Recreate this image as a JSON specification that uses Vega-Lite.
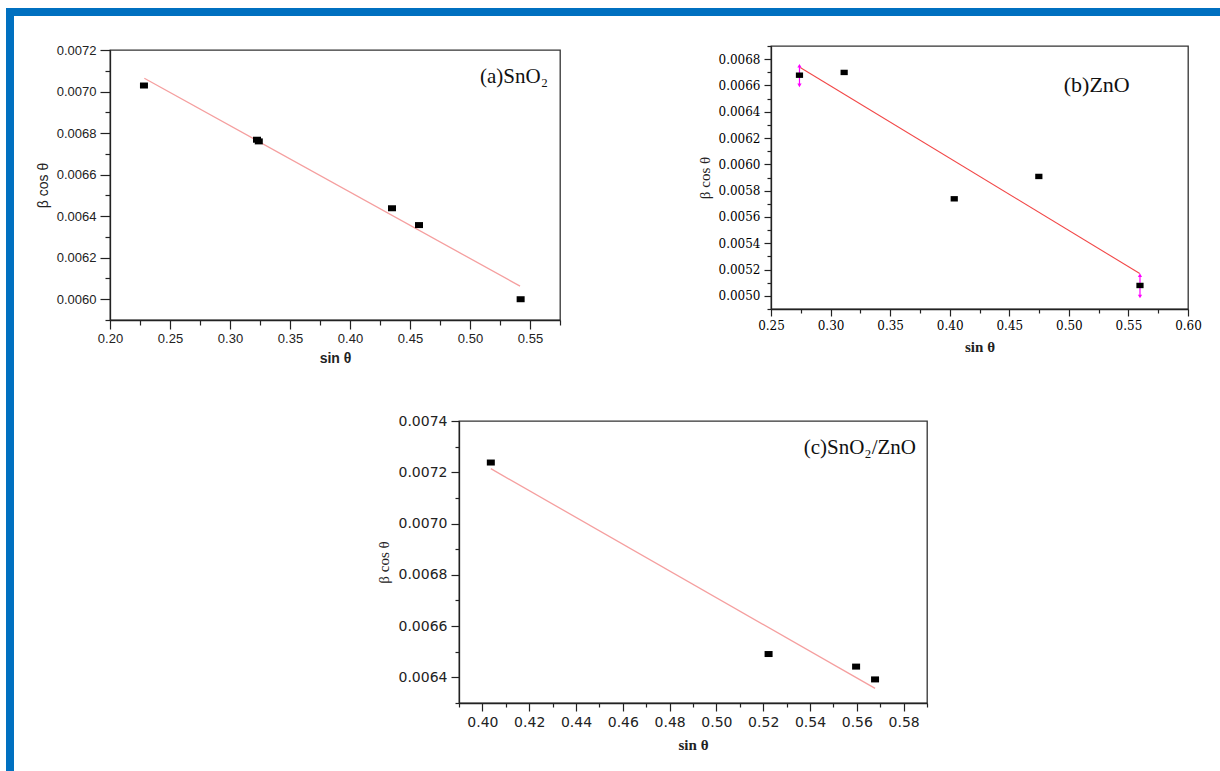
{
  "$schema": "https://vega.github.io/schema/vega-lite/v6.json",
  "background": "white",
  "padding": {"left": 6, "top": 8, "right": 0, "bottom": 0},
  "config": {
    "view": {"stroke": "#333333", "strokeWidth": 1.3},
    "axis": {"grid": false, "domainColor": "#222222", "tickColor": "#222222", "labelColor": "#222222", "titleColor": "#222222", "labelFlush": false, "labelOverlap": false, "domainWidth": 1.3, "tickWidth": 1.2}
  },
  "datasets": {
    "a_pts": [{"sin": 0.2283, "bc": 0.007029}, {"sin": 0.3225, "bc": 0.006768}, {"sin": 0.324, "bc": 0.00676}, {"sin": 0.435, "bc": 0.006438}, {"sin": 0.4575, "bc": 0.006357}, {"sin": 0.5422, "bc": 0.006}],
    "a_fit": [{"sin": 0.2286, "bc": 0.007064}, {"sin": 0.5417, "bc": 0.006063}],
    "b_pts": [{"sin": 0.2739, "bc": 0.006678}, {"sin": 0.3114, "bc": 0.006699}, {"sin": 0.4038, "bc": 0.005738}, {"sin": 0.4748, "bc": 0.005908}, {"sin": 0.5597, "bc": 0.005079}],
    "b_fit": [{"sin": 0.2745, "bc": 0.006737}, {"sin": 0.5595, "bc": 0.00517}],
    "b_err": [{"sin": 0.2739, "lo": 0.0066, "hi": 0.00675}, {"sin": 0.5597, "lo": 0.004995, "hi": 0.005157}],
    "c_pts": [{"sin": 0.4036, "bc": 0.007238}, {"sin": 0.5223, "bc": 0.006491}, {"sin": 0.5597, "bc": 0.006442}, {"sin": 0.5678, "bc": 0.006392}],
    "c_fit": [{"sin": 0.4036, "bc": 0.007214}, {"sin": 0.5678, "bc": 0.006357}]
  },
  "vconcat": [
    {"width": 1214, "height": 8, "view": {"stroke": null, "fill": "#0070c0"}, "data": {"values": []}, "mark": "point"},
    {
      "hconcat": [
        {"width": 8, "height": 755, "view": {"stroke": null, "fill": "#0070c0"}, "data": {"values": []}, "mark": "point"},
        {
          "vconcat": [
            {"width": 1, "height": 22, "view": {"stroke": null}, "data": {"values": []}, "mark": "point"},
            {
              "vconcat": [
                {
                  "hconcat": [
                    {
                      "vconcat": [
                        {"width": 1, "height": 1, "view": {"stroke": null}, "data": {"values": []}, "mark": "point"},
                        {
                          "width": 450, "height": 270,
                          "layer": [
                            {
                              "encoding": {
                                "x": {"field": "sin", "type": "quantitative", "scale": {"domain": [0.2, 0.575], "nice": false, "zero": false},
                                  "axis": {"title": "sin θ", "values": [0.2, 0.225, 0.25, 0.275, 0.3, 0.325, 0.35, 0.375, 0.4, 0.425, 0.45, 0.475, 0.5, 0.525, 0.55, 0.575],
                                    "labelExpr": "abs(datum.value*20 - round(datum.value*20)) < 0.01 ? format(datum.value, '.2f') : ''",
                                    "tickSize": {"condition": {"test": "abs(datum.value*20 - round(datum.value*20)) < 0.01", "value": 9}, "value": 5},
                                    "labelFont": "Liberation Sans", "labelFontSize": 13, "labelPadding": 3,
                                    "titleFont": "Liberation Sans", "titleFontSize": 14, "titleFontWeight": "bold", "titlePadding": 6}},
                                "y": {"field": "bc", "type": "quantitative", "scale": {"domain": [0.0059, 0.0072], "nice": false, "zero": false},
                                  "axis": {"title": "β cos θ", "values": [0.0059, 0.006, 0.0061, 0.0062, 0.0063, 0.0064, 0.0065, 0.0066, 0.0067, 0.0068, 0.0069, 0.007, 0.0071, 0.0072],
                                    "labelExpr": "abs(datum.value*5000 - round(datum.value*5000)) < 0.01 ? format(datum.value, '.4f') : ''",
                                    "tickSize": {"condition": {"test": "abs(datum.value*5000 - round(datum.value*5000)) < 0.01", "value": 10}, "value": 5},
                                    "labelFont": "Liberation Sans", "labelFontSize": 13, "labelPadding": 4,
                                    "titleFont": "Liberation Sans", "titleFontSize": 14, "titleFontWeight": "normal", "titlePadding": 6}}
                              },
                              "layer": [
                                {"data": {"name": "a_fit"}, "mark": {"type": "line", "color": "#f59f9f", "strokeWidth": 1.3}},
                                {"data": {"name": "a_pts"}, "mark": {"type": "point", "shape": "M-1,-0.75H1V0.75H-1Z", "filled": true, "color": "#000000", "opacity": 1, "size": 64}}
                              ]
                            },
                            {"data": {"values": [{"label": "(a)SnO₂"}]}, "mark": {"type": "text", "font": "Liberation Serif", "fontSize": 21, "align": "right", "baseline": "alphabetic", "color": "#111111"},
                              "encoding": {
                                "x": {"datum": 0.565, "type": "quantitative", "scale": {"domain": [0.2, 0.575], "nice": false, "zero": false},
                                  "axis": {"title": "sin θ", "values": [0.2, 0.225, 0.25, 0.275, 0.3, 0.325, 0.35, 0.375, 0.4, 0.425, 0.45, 0.475, 0.5, 0.525, 0.55, 0.575],
                                    "labelExpr": "abs(datum.value*20 - round(datum.value*20)) < 0.01 ? format(datum.value, '.2f') : ''",
                                    "tickSize": {"condition": {"test": "abs(datum.value*20 - round(datum.value*20)) < 0.01", "value": 9}, "value": 5},
                                    "labelFont": "Liberation Sans", "labelFontSize": 13, "labelPadding": 3,
                                    "titleFont": "Liberation Sans", "titleFontSize": 14, "titleFontWeight": "bold", "titlePadding": 6}},
                                "y": {"datum": 0.007042, "type": "quantitative", "scale": {"domain": [0.0059, 0.0072], "nice": false, "zero": false},
                                  "axis": {"title": "β cos θ", "values": [0.0059, 0.006, 0.0061, 0.0062, 0.0063, 0.0064, 0.0065, 0.0066, 0.0067, 0.0068, 0.0069, 0.007, 0.0071, 0.0072],
                                    "labelExpr": "abs(datum.value*5000 - round(datum.value*5000)) < 0.01 ? format(datum.value, '.4f') : ''",
                                    "tickSize": {"condition": {"test": "abs(datum.value*5000 - round(datum.value*5000)) < 0.01", "value": 10}, "value": 5},
                                    "labelFont": "Liberation Sans", "labelFontSize": 13, "labelPadding": 4,
                                    "titleFont": "Liberation Sans", "titleFontSize": 14, "titleFontWeight": "normal", "titlePadding": 6}},
                                "text": {"field": "label", "type": "nominal"}
                              }}
                          ]
                        }
                      ],
                      "spacing": 4
                    },
                    {
                      "vconcat": [
                        {"width": 1, "height": 1, "view": {"stroke": null}, "data": {"values": []}, "mark": "point"},
                        {
                          "width": 417, "height": 263,
                          "layer": [
                            {
                              "encoding": {
                                "x": {"field": "sin", "type": "quantitative", "scale": {"domain": [0.25, 0.6], "nice": false, "zero": false},
                                  "axis": {"title": "sin θ", "values": [0.25, 0.275, 0.3, 0.325, 0.35, 0.375, 0.4, 0.425, 0.45, 0.475, 0.5, 0.525, 0.55, 0.575, 0.6],
                                    "labelExpr": "abs(datum.value*20 - round(datum.value*20)) < 0.01 ? format(datum.value, '.2f') : ''",
                                    "tickSize": {"condition": {"test": "abs(datum.value*20 - round(datum.value*20)) < 0.01", "value": 7}, "value": 4},
                                    "labelFont": "DejaVu Serif", "labelFontSize": 12, "labelPadding": 4, "labelColor": "#000000",
                                    "titleFont": "Liberation Serif", "titleFontSize": 15, "titleFontWeight": "bold", "titlePadding": 8}},
                                "y": {"field": "bc", "type": "quantitative", "scale": {"domain": [0.0049, 0.0069], "nice": false, "zero": false},
                                  "axis": {"title": "β cos θ", "values": [0.0049, 0.005, 0.0051, 0.0052, 0.0053, 0.0054, 0.0055, 0.0056, 0.0057, 0.0058, 0.0059, 0.006, 0.0061, 0.0062, 0.0063, 0.0064, 0.0065, 0.0066, 0.0067, 0.0068, 0.0069],
                                    "labelExpr": "abs(datum.value*5000 - round(datum.value*5000)) < 0.01 ? format(datum.value, '.4f') : ''",
                                    "tickSize": {"condition": {"test": "abs(datum.value*5000 - round(datum.value*5000)) < 0.01", "value": 7}, "value": 4},
                                    "labelFont": "DejaVu Serif", "labelFontSize": 12, "labelPadding": 4, "labelColor": "#000000",
                                    "titleFont": "Liberation Serif", "titleFontSize": 15, "titleFontWeight": "normal", "titlePadding": 6}}
                              },
                              "layer": [
                                {"data": {"name": "b_fit"}, "mark": {"type": "line", "color": "#f24848", "strokeWidth": 1.1}},
                                {"data": {"name": "b_err"}, "mark": {"type": "rule", "color": "#ff00ff", "strokeWidth": 1.2}, "encoding": {"y": {"field": "lo", "type": "quantitative"}, "y2": {"field": "hi"}}},
                                {"data": {"name": "b_err"}, "mark": {"type": "point", "shape": "triangle-up", "filled": true, "color": "#ff00ff", "opacity": 1, "size": 18}, "encoding": {"y": {"field": "hi", "type": "quantitative"}}},
                                {"data": {"name": "b_err"}, "mark": {"type": "point", "shape": "triangle-down", "filled": true, "color": "#ff00ff", "opacity": 1, "size": 18}, "encoding": {"y": {"field": "lo", "type": "quantitative"}}},
                                {"data": {"name": "b_pts"}, "mark": {"type": "point", "shape": "M-1,-0.75H1V0.75H-1Z", "filled": true, "color": "#000000", "opacity": 1, "size": 52}}
                              ]
                            },
                            {"data": {"values": [{"label": "(b)ZnO"}]}, "mark": {"type": "text", "font": "Liberation Serif", "fontSize": 22, "align": "right", "baseline": "alphabetic", "color": "#111111"},
                              "encoding": {
                                "x": {"datum": 0.5511, "type": "quantitative", "scale": {"domain": [0.25, 0.6], "nice": false, "zero": false},
                                  "axis": {"title": "sin θ", "values": [0.25, 0.275, 0.3, 0.325, 0.35, 0.375, 0.4, 0.425, 0.45, 0.475, 0.5, 0.525, 0.55, 0.575, 0.6],
                                    "labelExpr": "abs(datum.value*20 - round(datum.value*20)) < 0.01 ? format(datum.value, '.2f') : ''",
                                    "tickSize": {"condition": {"test": "abs(datum.value*20 - round(datum.value*20)) < 0.01", "value": 7}, "value": 4},
                                    "labelFont": "DejaVu Serif", "labelFontSize": 12, "labelPadding": 4, "labelColor": "#000000",
                                    "titleFont": "Liberation Serif", "titleFontSize": 15, "titleFontWeight": "bold", "titlePadding": 8}},
                                "y": {"datum": 0.006551, "type": "quantitative", "scale": {"domain": [0.0049, 0.0069], "nice": false, "zero": false},
                                  "axis": {"title": "β cos θ", "values": [0.0049, 0.005, 0.0051, 0.0052, 0.0053, 0.0054, 0.0055, 0.0056, 0.0057, 0.0058, 0.0059, 0.006, 0.0061, 0.0062, 0.0063, 0.0064, 0.0065, 0.0066, 0.0067, 0.0068, 0.0069],
                                    "labelExpr": "abs(datum.value*5000 - round(datum.value*5000)) < 0.01 ? format(datum.value, '.4f') : ''",
                                    "tickSize": {"condition": {"test": "abs(datum.value*5000 - round(datum.value*5000)) < 0.01", "value": 7}, "value": 4},
                                    "labelFont": "DejaVu Serif", "labelFontSize": 12, "labelPadding": 4, "labelColor": "#000000",
                                    "titleFont": "Liberation Serif", "titleFontSize": 15, "titleFontWeight": "normal", "titlePadding": 6}},
                                "text": {"field": "label", "type": "nominal"}
                              }}
                          ]
                        }
                      ],
                      "spacing": 0
                    }
                  ],
                  "spacing": 134
                },
                {
                  "hconcat": [
                    {"width": 265, "height": 1, "view": {"stroke": null}, "data": {"values": []}, "mark": "point"},
                    {
                      "width": 468, "height": 282,
                      "layer": [
                        {
                          "encoding": {
                            "x": {"field": "sin", "type": "quantitative", "scale": {"domain": [0.39, 0.59], "nice": false, "zero": false},
                              "axis": {"title": "sin θ", "values": [0.39, 0.4, 0.41, 0.42, 0.43, 0.44, 0.45, 0.46, 0.47, 0.48, 0.49, 0.5, 0.51, 0.52, 0.53, 0.54, 0.55, 0.56, 0.57, 0.58, 0.59],
                                "labelExpr": "abs(datum.value*50 - round(datum.value*50)) < 0.01 ? format(datum.value, '.2f') : ''",
                                "tickSize": {"condition": {"test": "abs(datum.value*50 - round(datum.value*50)) < 0.01", "value": 8}, "value": 4},
                                "labelFont": "DejaVu Sans", "labelFontSize": 14, "labelPadding": 4,
                                "titleFont": "Liberation Serif", "titleFontSize": 15, "titleFontWeight": "bold", "titlePadding": 8}},
                            "y": {"field": "bc", "type": "quantitative", "scale": {"domain": [0.0063, 0.0074], "nice": false, "zero": false},
                              "axis": {"title": "β cos θ", "values": [0.0063, 0.0064, 0.0065, 0.0066, 0.0067, 0.0068, 0.0069, 0.007, 0.0071, 0.0072, 0.0073, 0.0074],
                                "labelExpr": "abs(datum.value*5000 - round(datum.value*5000)) < 0.01 ? format(datum.value, '.4f') : ''",
                                "tickSize": {"condition": {"test": "abs(datum.value*5000 - round(datum.value*5000)) < 0.01", "value": 8}, "value": 4},
                                "labelFont": "DejaVu Sans", "labelFontSize": 14, "labelPadding": 4,
                                "titleFont": "Liberation Serif", "titleFontSize": 15, "titleFontWeight": "normal", "titlePadding": 7}}
                          },
                          "layer": [
                            {"data": {"name": "c_fit"}, "mark": {"type": "line", "color": "#f59f9f", "strokeWidth": 1.3}},
                            {"data": {"name": "c_pts"}, "mark": {"type": "point", "shape": "M-1,-0.75H1V0.75H-1Z", "filled": true, "color": "#000000", "opacity": 1, "size": 64}}
                          ]
                        },
                        {"data": {"values": [{"label": "(c)SnO₂/ZnO"}]}, "mark": {"type": "text", "font": "Liberation Serif", "fontSize": 21, "align": "right", "baseline": "alphabetic", "color": "#111111"},
                          "encoding": {
                            "x": {"datum": 0.5853, "type": "quantitative", "scale": {"domain": [0.39, 0.59], "nice": false, "zero": false},
                              "axis": {"title": "sin θ", "values": [0.39, 0.4, 0.41, 0.42, 0.43, 0.44, 0.45, 0.46, 0.47, 0.48, 0.49, 0.5, 0.51, 0.52, 0.53, 0.54, 0.55, 0.56, 0.57, 0.58, 0.59],
                                "labelExpr": "abs(datum.value*50 - round(datum.value*50)) < 0.01 ? format(datum.value, '.2f') : ''",
                                "tickSize": {"condition": {"test": "abs(datum.value*50 - round(datum.value*50)) < 0.01", "value": 8}, "value": 4},
                                "labelFont": "DejaVu Sans", "labelFontSize": 14, "labelPadding": 4,
                                "titleFont": "Liberation Serif", "titleFontSize": 15, "titleFontWeight": "bold", "titlePadding": 8}},
                            "y": {"datum": 0.007273, "type": "quantitative", "scale": {"domain": [0.0063, 0.0074], "nice": false, "zero": false},
                              "axis": {"title": "β cos θ", "values": [0.0063, 0.0064, 0.0065, 0.0066, 0.0067, 0.0068, 0.0069, 0.007, 0.0071, 0.0072, 0.0073, 0.0074],
                                "labelExpr": "abs(datum.value*5000 - round(datum.value*5000)) < 0.01 ? format(datum.value, '.4f') : ''",
                                "tickSize": {"condition": {"test": "abs(datum.value*5000 - round(datum.value*5000)) < 0.01", "value": 8}, "value": 4},
                                "labelFont": "DejaVu Sans", "labelFontSize": 14, "labelPadding": 4,
                                "titleFont": "Liberation Serif", "titleFontSize": 15, "titleFontWeight": "normal", "titlePadding": 7}},
                            "text": {"field": "label", "type": "nominal"}
                          }}
                      ]
                    }
                  ],
                  "spacing": 0
                }
              ],
              "spacing": 47
            }
          ],
          "spacing": 0
        }
      ],
      "spacing": 21
    }
  ],
  "spacing": 0
}
